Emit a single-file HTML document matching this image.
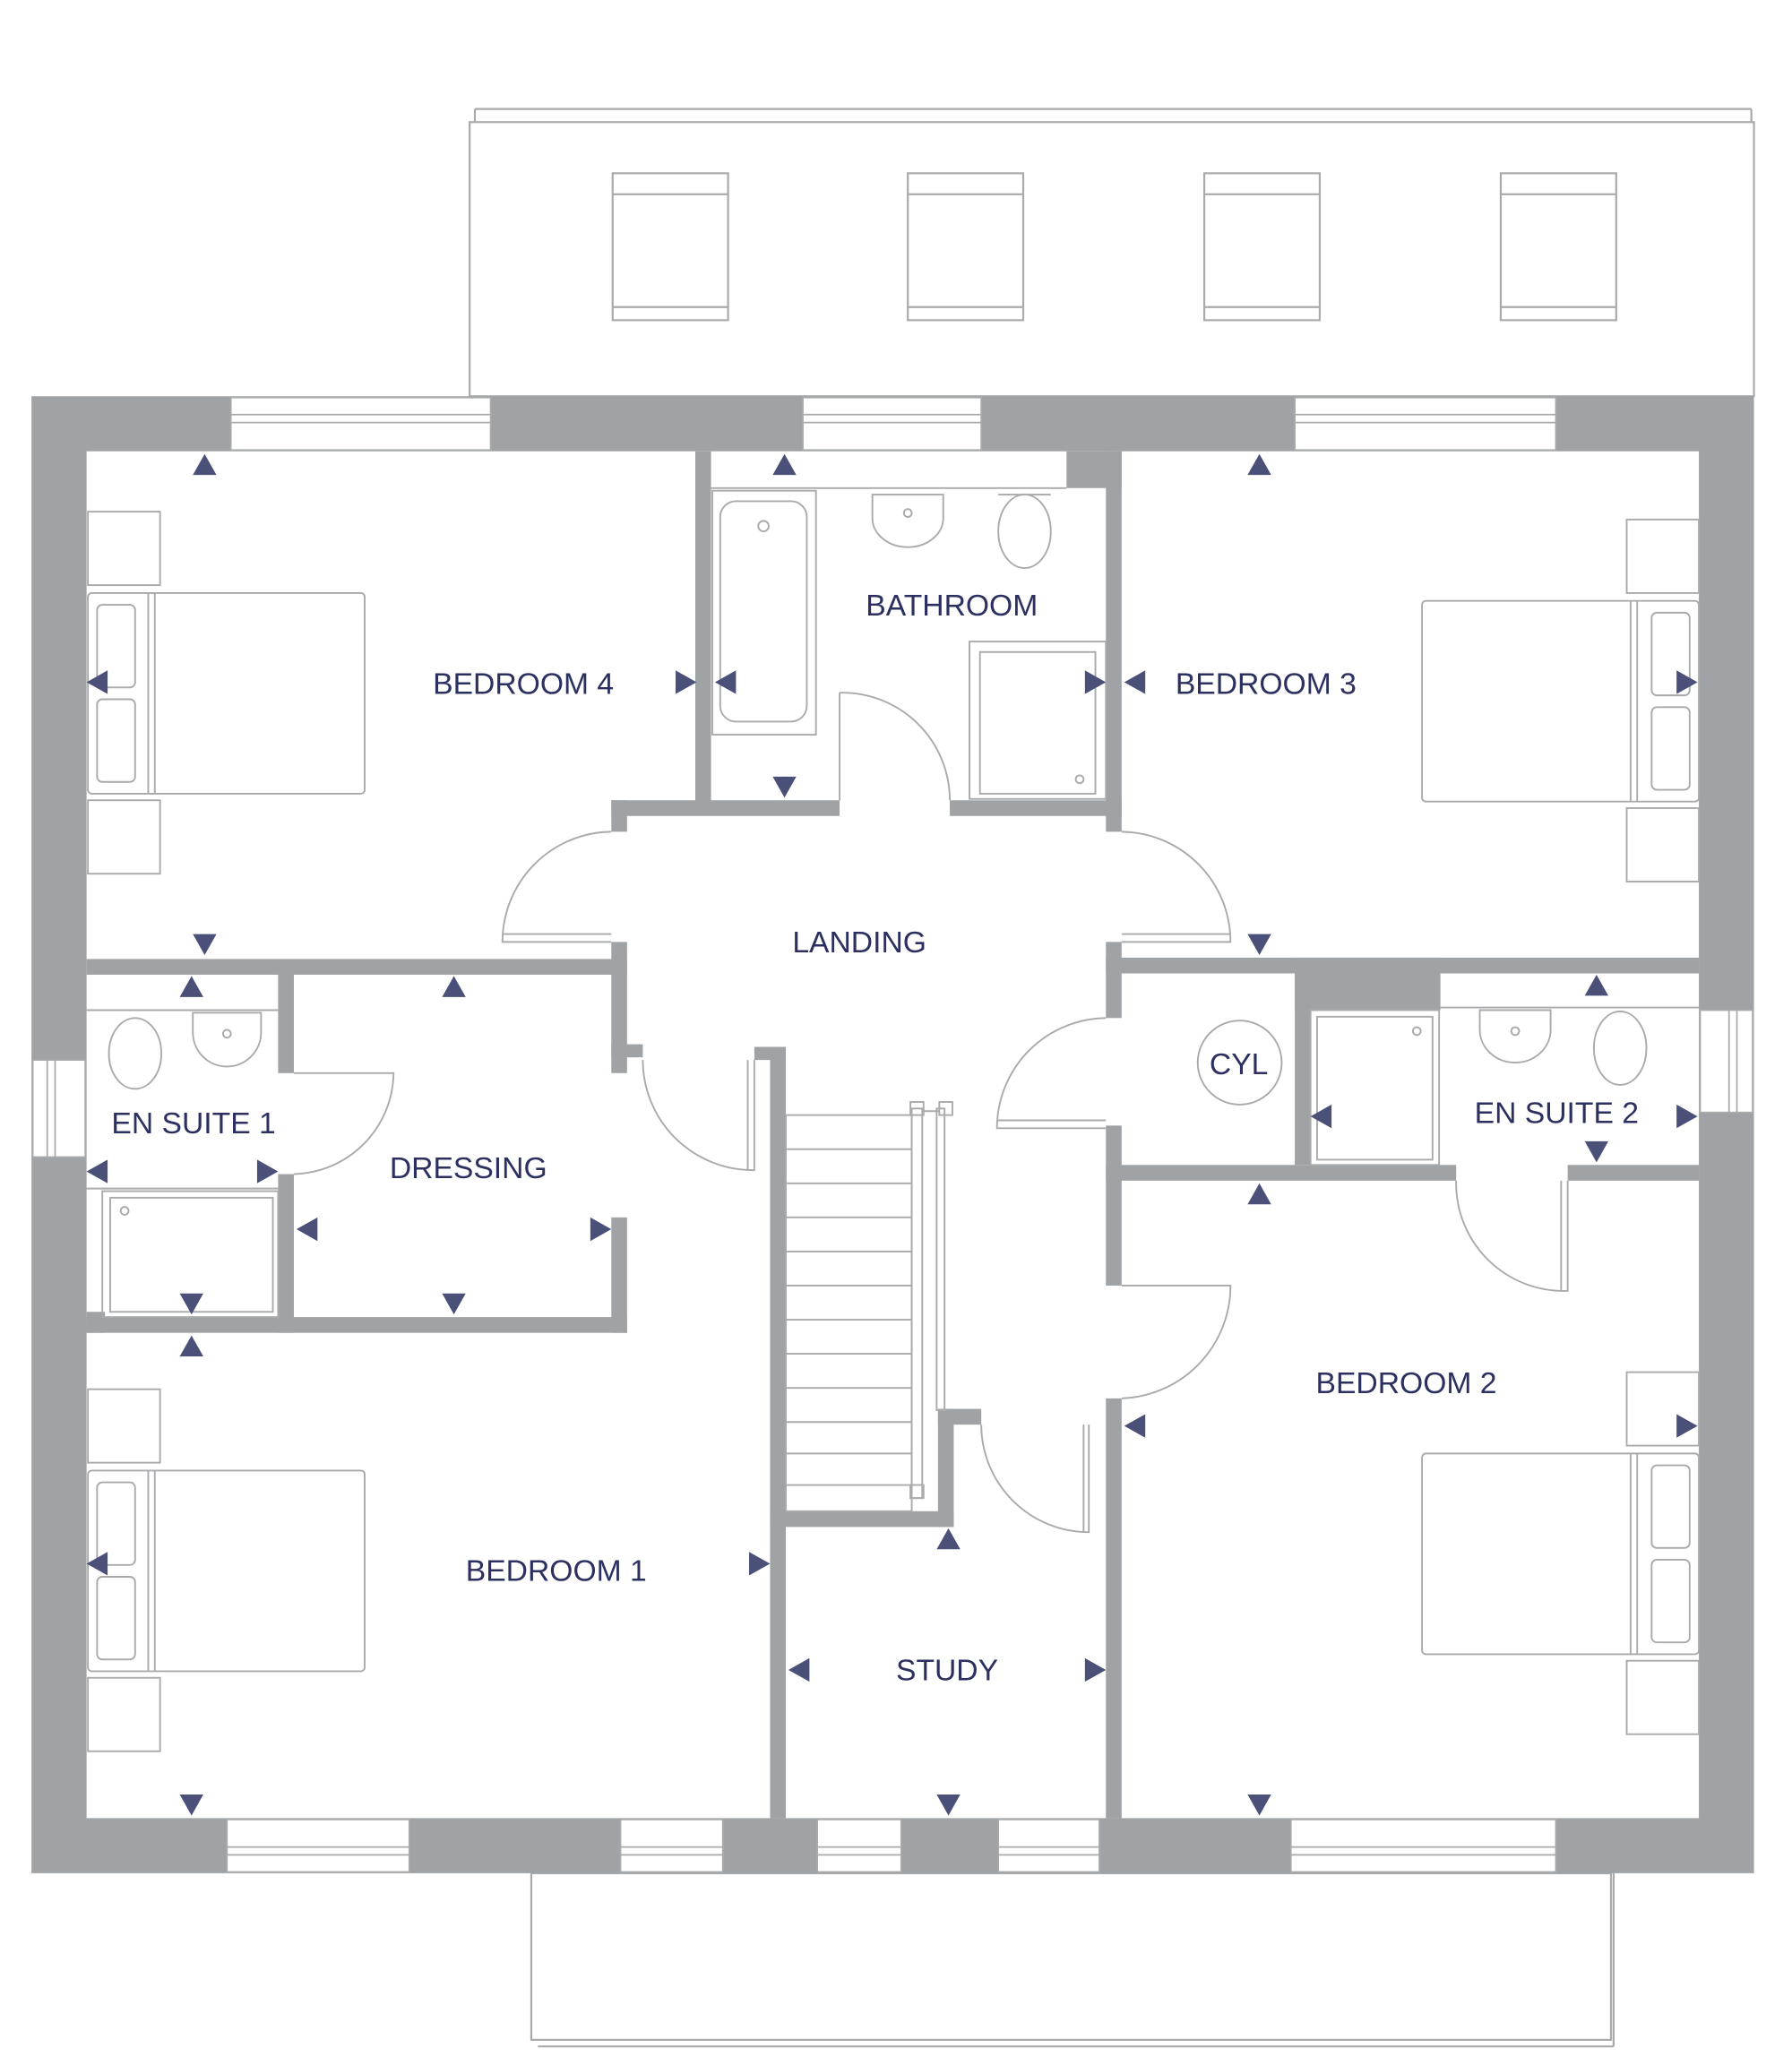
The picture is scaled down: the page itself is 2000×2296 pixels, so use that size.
<!DOCTYPE html>
<html><head><meta charset="utf-8"><style>
html,body{margin:0;padding:0;background:#fff;}
svg{display:block;}
text{font-family:"Liberation Sans",sans-serif;fill:#2b3060;font-size:23px;}
</style></head><body>
<svg width="2000" height="2296" viewBox="0 0 1366 1568" xmlns="http://www.w3.org/2000/svg">
<g fill="none" stroke="#a8aaac" stroke-width="1.5">
<!-- roof -->
<rect x="358" y="93" width="979" height="209"/>
<line x1="362" y1="83" x2="1335" y2="83"/><line x1="362" y1="83" x2="362" y2="93"/><line x1="1335" y1="83" x2="1335" y2="93"/>
<rect x="467" y="132" width="88" height="112"/><line x1="467" y1="148" x2="555" y2="148"/><line x1="467" y1="234" x2="555" y2="234"/>
<rect x="692" y="132" width="88" height="112"/><line x1="692" y1="148" x2="780" y2="148"/><line x1="692" y1="234" x2="780" y2="234"/>
<rect x="918" y="132" width="88" height="112"/><line x1="918" y1="148" x2="1006" y2="148"/><line x1="918" y1="234" x2="1006" y2="234"/>
<rect x="1144" y="132" width="88" height="112"/><line x1="1144" y1="148" x2="1232" y2="148"/><line x1="1144" y1="234" x2="1232" y2="234"/>
<!-- balcony -->
<rect x="405" y="1428" width="823" height="127"/>
<line x1="410" y1="1560" x2="1230" y2="1560"/><line x1="1230" y1="1428" x2="1230" y2="1560"/>
</g>
<!-- outer walls -->
<g fill="#a0a3a5">
<path d="M24 302H1337V1428H24Z M66 344V1386H1295V344Z" fill-rule="evenodd"/>
<!-- interior -->
<rect x="530" y="344" width="12" height="268"/>
<rect x="466" y="610" width="174" height="12"/>
<rect x="724" y="610" width="131" height="12"/>
<rect x="843" y="344" width="12" height="290"/>
<rect x="813" y="344" width="42" height="28"/>
<rect x="66" y="731" width="412" height="12"/>
<rect x="466" y="610" width="12" height="24"/>
<rect x="466" y="718" width="12" height="100"/>
<rect x="466" y="796" width="24" height="10"/>
<rect x="843" y="730" width="452" height="12"/>
<rect x="987" y="730" width="111" height="40"/>
<rect x="843" y="718" width="12" height="58"/>
<rect x="843" y="858" width="12" height="122"/>
<rect x="843" y="1066" width="12" height="320"/>
<rect x="843" y="888" width="267" height="12"/>
<rect x="1195" y="888" width="100" height="12"/>
<rect x="987" y="742" width="12" height="146"/>
<rect x="212" y="742" width="12" height="76"/>
<rect x="212" y="895" width="12" height="121"/>
<rect x="66" y="1004" width="412" height="12"/>
<rect x="466" y="928" width="12" height="88"/>
<rect x="587" y="798" width="12" height="588"/>
<rect x="575" y="798" width="24" height="10"/>
<rect x="587" y="1152" width="140" height="12"/>
<rect x="715" y="1074" width="33" height="12"/>
<rect x="715" y="1074" width="12" height="90"/>
<rect x="66" y="1000" width="14" height="16"/>
</g>
<!-- windows -->
<g fill="#fff" stroke="#a8aaac" stroke-width="1.2">
<rect x="176" y="303" width="198" height="40"/><line x1="176" y1="316" x2="374" y2="316"/><line x1="176" y1="322" x2="374" y2="322"/>
<rect x="612" y="303" width="136" height="40"/><line x1="612" y1="316" x2="748" y2="316"/><line x1="612" y1="322" x2="748" y2="322"/>
<rect x="987" y="303" width="199" height="40"/><line x1="987" y1="316" x2="1186" y2="316"/><line x1="987" y1="322" x2="1186" y2="322"/>
<rect x="173" y="1387" width="139" height="40"/><line x1="173" y1="1408" x2="312" y2="1408"/><line x1="173" y1="1414" x2="312" y2="1414"/>
<rect x="473" y="1387" width="78" height="40"/><line x1="473" y1="1408" x2="551" y2="1408"/><line x1="473" y1="1414" x2="551" y2="1414"/>
<rect x="623" y="1387" width="64" height="40"/><line x1="623" y1="1408" x2="687" y2="1408"/><line x1="623" y1="1414" x2="687" y2="1414"/>
<rect x="761" y="1387" width="77" height="40"/><line x1="761" y1="1408" x2="838" y2="1408"/><line x1="761" y1="1414" x2="838" y2="1414"/>
<rect x="984" y="1387" width="202" height="40"/><line x1="984" y1="1408" x2="1186" y2="1408"/><line x1="984" y1="1414" x2="1186" y2="1414"/>
<rect x="25" y="808" width="40" height="74"/><line x1="36" y1="808" x2="36" y2="882"/><line x1="42" y1="808" x2="42" y2="882"/>
<rect x="1296" y="770" width="40" height="78"/><line x1="1318" y1="770" x2="1318" y2="848"/><line x1="1324" y1="770" x2="1324" y2="848"/>
</g>
<!-- furniture -->
<g fill="none" stroke="#a8aaac" stroke-width="1.3">
<!-- bed 4 -->
<rect x="67" y="390" width="55" height="56"/><rect x="67" y="610" width="55" height="56"/>
<rect x="67" y="452" width="211" height="153" rx="3"/><line x1="113" y1="452" x2="113" y2="605"/><line x1="118" y1="452" x2="118" y2="605"/>
<rect x="74" y="461" width="29" height="63" rx="4"/><rect x="74" y="533" width="29" height="63" rx="4"/>
<!-- bed 1 -->
<rect x="67" y="1059" width="55" height="56"/><rect x="67" y="1279" width="55" height="56"/>
<rect x="67" y="1121" width="211" height="153" rx="3"/><line x1="113" y1="1121" x2="113" y2="1274"/><line x1="118" y1="1121" x2="118" y2="1274"/>
<rect x="74" y="1130" width="29" height="63" rx="4"/><rect x="74" y="1202" width="29" height="63" rx="4"/>
<!-- bed 3 -->
<rect x="1240" y="396" width="55" height="56"/><rect x="1240" y="616" width="55" height="56"/>
<rect x="1084" y="458" width="211" height="153" rx="3"/><line x1="1243" y1="458" x2="1243" y2="611"/><line x1="1248" y1="458" x2="1248" y2="611"/>
<rect x="1259" y="467" width="29" height="63" rx="4"/><rect x="1259" y="539" width="29" height="63" rx="4"/>
<!-- bed 2 -->
<rect x="1240" y="1046" width="55" height="56"/><rect x="1240" y="1266" width="55" height="56"/>
<rect x="1084" y="1108" width="211" height="153" rx="3"/><line x1="1243" y1="1108" x2="1243" y2="1261"/><line x1="1248" y1="1108" x2="1248" y2="1261"/>
<rect x="1259" y="1117" width="29" height="63" rx="4"/><rect x="1259" y="1189" width="29" height="63" rx="4"/>
<!-- bathroom -->
<line x1="542" y1="372" x2="813" y2="372"/>
<rect x="543" y="374" width="79" height="186"/><rect x="549" y="382" width="66" height="168" rx="12"/><circle cx="582" cy="401" r="4"/>
<path d="M665 377h54v18a27 22 0 0 1-54 0z"/><circle cx="692" cy="391" r="3"/>
<ellipse cx="781" cy="405" rx="20" ry="28"/><line x1="761" y1="377" x2="801" y2="377"/>
<rect x="739" y="489" width="104" height="120"/><rect x="747" y="497" width="88" height="108"/><circle cx="823" cy="594" r="3"/>
<!-- ensuite1 -->
<line x1="66" y1="770" x2="212" y2="770"/><line x1="66" y1="906" x2="212" y2="906"/>
<ellipse cx="103" cy="803" rx="20" ry="27"/><path d="M147 772h52v15a26 26 0 0 1-52 0z"/><circle cx="173" cy="788" r="3"/>
<rect x="78" y="908" width="134" height="96"/><rect x="84" y="913" width="124" height="87"/><circle cx="95" cy="923" r="3"/>
<!-- ensuite2 -->
<line x1="1098" y1="768" x2="1295" y2="768"/>
<rect x="999" y="770" width="98" height="118"/><rect x="1004" y="775" width="88" height="109"/><circle cx="1080" cy="786" r="3"/>
<path d="M1128 770h54v15a27 25 0 0 1-54 0z"/><circle cx="1155" cy="786" r="3"/>
<ellipse cx="1235" cy="799" rx="20" ry="28"/>
<!-- cyl -->
<circle cx="945" cy="810" r="32"/>
<!-- stairs -->
<rect x="599" y="850" width="96" height="302"/>
<g>
<line x1="599" y1="876" x2="695" y2="876"/><line x1="599" y1="902" x2="695" y2="902"/><line x1="599" y1="928" x2="695" y2="928"/><line x1="599" y1="954" x2="695" y2="954"/><line x1="599" y1="980" x2="695" y2="980"/><line x1="599" y1="1006" x2="695" y2="1006"/><line x1="599" y1="1032" x2="695" y2="1032"/><line x1="599" y1="1058" x2="695" y2="1058"/><line x1="599" y1="1084" x2="695" y2="1084"/><line x1="599" y1="1108" x2="695" y2="1108"/><line x1="599" y1="1132" x2="695" y2="1132"/>
</g>
<rect x="695" y="845" width="8" height="297"/><rect x="714" y="845" width="6" height="230"/>
<rect x="694" y="840" width="10" height="10"/><rect x="716" y="840" width="10" height="10"/><rect x="694" y="1132" width="10" height="10"/>
<line x1="703" y1="847" x2="716" y2="847"/>
<!-- doors -->
<path d="M640 528V610 M640 528A82 82 0 0 1 724 610"/>
<path d="M466 634H466 M466 718H383A84 84 0 0 1 466 634 M383 712H466"/>
<path d="M855 634A84 84 0 0 1 938 718H855 M855 712H938"/>
<path d="M490 808A84 84 0 0 0 575 892V808 M570 892V808"/>
<path d="M843 776A84 84 0 0 0 760 860H843 M760 854H843"/>
<path d="M224 818H300A78 78 0 0 1 224 895"/>
<path d="M855 980H938A86 86 0 0 1 855 1066"/>
<path d="M748 1086A82 82 0 0 0 830 1168V1086 M826 1168V1086"/>
<path d="M1110 900A82 82 0 0 0 1195 984V900 M1190 984V900"/>
</g>
<!-- arrows -->
<g fill="#4a5078">
<path d="M147 362l9-16 9 16z"/><path d="M589 362l9-16 9 16z"/><path d="M951 362l9-16 9 16z"/>
<path d="M66 520l16-9v18z"/><path d="M531 520l-16-9v18z"/><path d="M545 520l16-9v18z"/><path d="M843 520l-16-9v18z"/><path d="M857 520l16-9v18z"/><path d="M1294 520l-16-9v18z"/>
<path d="M589 592l9 16 9-16z"/><path d="M147 712l9 16 9-16z"/><path d="M951 712l9 16 9-16z"/>
<path d="M137 760l9-16 9 16z"/><path d="M337 760l9-16 9 16z"/><path d="M1208 759l9-16 9 16z"/>
<path d="M66 893l16-9v18z"/><path d="M212 893l-16-9v18z"/><path d="M226 937l16-9v18z"/><path d="M466 937l-16-9v18z"/>
<path d="M999 851l16-9v18z"/><path d="M1294 851l-16-9v18z"/><path d="M1208 870l9 16 9-16z"/>
<path d="M951 918l9-16 9 16z"/><path d="M137 986l9 16 9-16z"/><path d="M337 986l9 16 9-16z"/><path d="M137 1034l9-16 9 16z"/>
<path d="M857 1087l16-9v18z"/><path d="M1294 1087l-16-9v18z"/><path d="M66 1192l16-9v18z"/><path d="M587 1192l-16-9v18z"/>
<path d="M714 1181l9-16 9 16z"/><path d="M601 1273l16-9v18z"/><path d="M843 1273l-16-9v18z"/>
<path d="M137 1368l9 16 9-16z"/><path d="M714 1368l9 16 9-16z"/><path d="M951 1368l9 16 9-16z"/>
</g>
<g>
<text x="330" y="529">BEDROOM 4</text>
<text x="660" y="469">BATHROOM</text>
<text x="896" y="529">BEDROOM 3</text>
<text x="604" y="726">LANDING</text>
<text x="922" y="819">CYL</text>
<text x="85" y="864">EN SUITE 1</text>
<text x="1124" y="856">EN SUITE 2</text>
<text x="297" y="898">DRESSING</text>
<text x="1003" y="1062">BEDROOM 2</text>
<text x="355" y="1205">BEDROOM 1</text>
<text x="683" y="1281">STUDY</text>
</g>
</svg>
</body></html>
